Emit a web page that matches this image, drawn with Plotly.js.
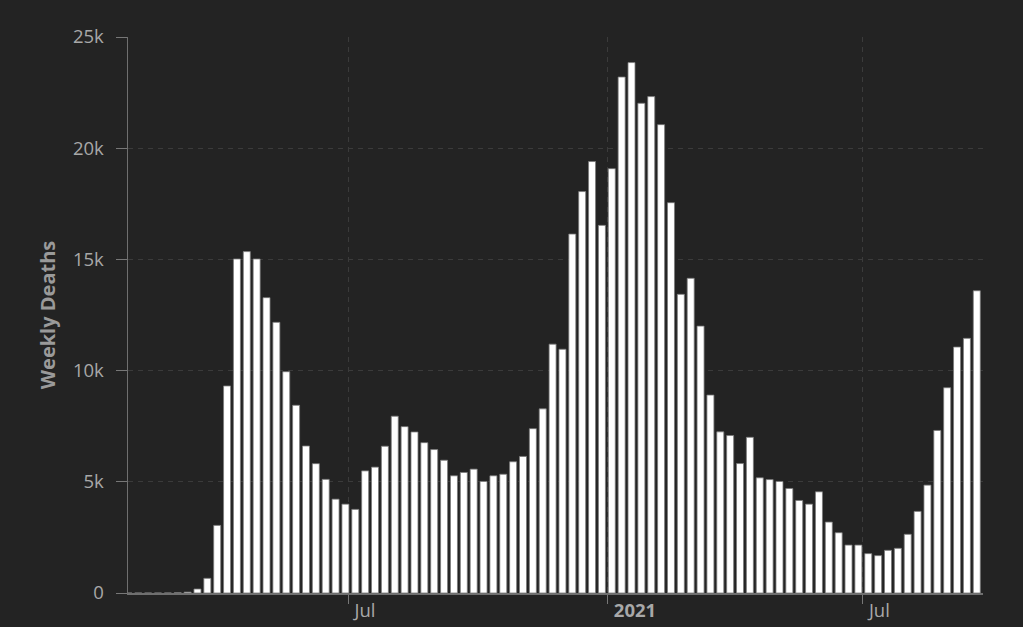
<!DOCTYPE html>
<html>
<head>
<meta charset="utf-8">
<script src="https://cdn.plot.ly/plotly-3.0.1.min.js"></script>
<style>
  html, body { margin: 0; padding: 0; background: #232323; }
  #chart { width: 1023px; height: 627px; }
</style>
</head>
<body>
<div id="chart"></div>
<script>
const weeks = [
  "2020-01-27","2020-02-03","2020-02-10","2020-02-17","2020-02-24","2020-03-02","2020-03-09","2020-03-16",
  "2020-03-23","2020-03-30","2020-04-06","2020-04-13","2020-04-20","2020-04-27","2020-05-04","2020-05-11",
  "2020-05-18","2020-05-25","2020-06-01","2020-06-08","2020-06-15","2020-06-22","2020-06-29","2020-07-06",
  "2020-07-13","2020-07-20","2020-07-27","2020-08-03","2020-08-10","2020-08-17","2020-08-24","2020-08-31",
  "2020-09-07","2020-09-14","2020-09-21","2020-09-28","2020-10-05","2020-10-12","2020-10-19","2020-10-26",
  "2020-11-02","2020-11-09","2020-11-16","2020-11-23","2020-11-30","2020-12-07","2020-12-14","2020-12-21",
  "2020-12-28","2021-01-04","2021-01-11","2021-01-18","2021-01-25","2021-02-01","2021-02-08","2021-02-15",
  "2021-02-22","2021-03-01","2021-03-08","2021-03-15","2021-03-22","2021-03-29","2021-04-05","2021-04-12",
  "2021-04-19","2021-04-26","2021-05-03","2021-05-10","2021-05-17","2021-05-24","2021-05-31","2021-06-07",
  "2021-06-14","2021-06-21","2021-06-28","2021-07-05","2021-07-12","2021-07-19","2021-07-26","2021-08-02",
  "2021-08-09","2021-08-16","2021-08-23","2021-08-30","2021-09-06","2021-09-13","2021-09-20"
];

const weeklyDeaths = [
  1, 1, 1, 1, 2, 10, 40, 180,
  660, 3040, 9310, 15020, 15350, 15020, 13280, 12170,
  9950, 8440, 6610, 5815, 5110, 4220, 3995, 3760,
  5490, 5660, 6600, 7950, 7480, 7240, 6760, 6450,
  5970, 5270, 5420, 5570, 5015, 5270, 5340, 5900,
  6140, 7390, 8280, 11190, 10960, 16140, 18050, 19400,
  16530, 19080, 23200, 23850, 22020, 22320, 21060, 17550,
  13430, 14150, 12000, 8900, 7245, 7080, 5820, 7000,
  5180, 5100, 5015, 4700, 4160, 3995, 4550, 3190,
  2710, 2155, 2155, 1770, 1680, 1920, 2010, 2640,
  3670, 4850, 7310, 9230, 11060, 11450, 13590
];

const xTickVals = ["2020-07-01", "2021-01-01", "2021-07-01"];
const xTickText = ["Jul", "<b>2021</b>", "Jul"];
const yTickVals = [0, 5000, 10000, 15000, 20000, 25000];
const yTickText = ["0", "5k", "10k", "15k", "20k", "25k"];

const trace = {
  type: "bar",
  x: weeks,
  y: weeklyDeaths,
  marker: { color: "#ffffff", line: { color: "#7a7a7a", width: 0.8 } },
  hoverinfo: "x+y"
};

const layout = {
  width: 1023,
  height: 627,
  paper_bgcolor: "#232323",
  plot_bgcolor: "#232323",
  margin: { l: 128, r: 40, t: 37, b: 34, pad: 0 },
  bargap: 0.29,
  showlegend: false,
  font: { family: "'Open Sans', sans-serif", color: "#a8a8a8", size: 18 },
  xaxis: {
    type: "date",
    range: ["2020-01-26 17:00", "2021-09-24 10:00"],
    tickvals: xTickVals,
    ticktext: xTickText,
    ticks: "outside",
    ticklen: 9,
    tickcolor: "#777",
    tickwidth: 1,
    ticklabelposition: "outside right",
    ticklabelshift: 5,
    ticklabelstandoff: 0,
    tickfont: { size: 18.5, color: "#a8a8a8" },
    showline: true,
    linecolor: "#6f6f6f",
    linewidth: 1.5,
    showgrid: true,
    gridcolor: "#3b3b3b",
    griddash: "5px,5px",
    gridwidth: 1,
    zeroline: false,
    automargin: false
  },
  yaxis: {
    range: [0, 25000],
    tickvals: yTickVals,
    ticktext: yTickText,
    ticks: "outside",
    ticklen: 11,
    tickcolor: "#777",
    tickwidth: 1,
    ticklabelstandoff: 8,
    tickfont: { size: 18.5, color: "#a8a8a8" },
    showline: true,
    linecolor: "#6f6f6f",
    linewidth: 1.5,
    showgrid: true,
    gridcolor: "#3b3b3b",
    griddash: "5px,5px",
    gridwidth: 1,
    zeroline: false,
    automargin: false,
    title: {
      text: "<b>Weekly Deaths</b>",
      font: { size: 20, color: "#9a9a9a" },
      standoff: 12
    }
  }
};

Plotly.newPlot("chart", [trace], layout, { displayModeBar: false, staticPlot: true });
</script>
</body>
</html>
